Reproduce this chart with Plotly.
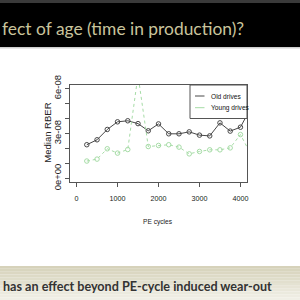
import plotly.graph_objects as go

# ---- data ----
pe_cycles = [250, 500, 750, 1000, 1250, 1500, 1750, 2000, 2250, 2500,
             2750, 3000, 3250, 3500, 3750, 4000, 4250]
old_drives = [2.25, 2.58, 3.27, 3.78, 3.85, 3.66, 3.18, 3.64, 2.98, 2.98,
              3.11, 2.89, 2.84, 3.71, 3.16, 3.42, 4.70]
young_drives = [1.16, 1.29, 1.98, 1.69, 1.93, 6.90, 2.13, 2.20, 2.25, 2.09,
                1.64, 1.80, 1.91, 1.91, 2.04, 2.93, 1.63]
old_drives = [v * 1e-8 for v in old_drives]
young_drives = [v * 1e-8 for v in young_drives]

x_ticks = [0, 1000, 2000, 3000, 4000]
y_tickvals = [0, 1e-8, 2e-8, 3e-8, 4e-8, 5e-8, 6e-8]
y_ticktext = ["0e+00", "", "", "3e-08", "", "", "6e-08"]

title_text = "fect of age (time in production)?"
bottom_text = "has an effect beyond PE-cycle induced wear-out"
series_names = ["Old drives", "Young drives"]

# ---- layout geometry (pixels) ----
L, R, T, B = 70, 247, 85, 182
W, H = R - L, B - T
def xp(px):
    return (px - L) / W
def yp(py):
    return (B - py) / H

OLD_COL = "#484848"
YOUNG_COL = "#a6dca6"
SANS = "Liberation Sans, Arial"
SMALL = 6.6

fig = go.Figure()
fig.add_trace(go.Scatter(
    x=pe_cycles, y=old_drives, mode="lines+markers", name=series_names[0],
    line=dict(color=OLD_COL, width=1),
    marker=dict(symbol="circle-open", size=4.5, color=OLD_COL, line=dict(width=1)),
    showlegend=False))
fig.add_trace(go.Scatter(
    x=pe_cycles, y=young_drives, mode="lines+markers", name=series_names[1],
    line=dict(color=YOUNG_COL, width=1, dash="dot"),
    marker=dict(symbol="circle-open", size=4.5, color=YOUNG_COL, line=dict(width=1)),
    showlegend=False))

shapes = []
annotations = []

# title band
shapes.append(dict(type="rect", xref="paper", yref="paper", x0=xp(0), x1=xp(300),
                   y0=yp(0), y1=yp(3), fillcolor="#3a3a3a", line=dict(width=0), layer="below"))
shapes.append(dict(type="rect", xref="paper", yref="paper", x0=xp(0), x1=xp(300),
                   y0=yp(3), y1=yp(47), fillcolor="#000000", line=dict(width=0), layer="below"))
shapes.append(dict(type="rect", xref="paper", yref="paper", x0=xp(0), x1=xp(300),
                   y0=yp(47), y1=yp(48.5), fillcolor="#cfcfcf", line=dict(width=0), layer="below"))
annotations.append(dict(text=title_text, xref="paper", yref="paper", x=xp(0), y=yp(28),
                        xanchor="left", yanchor="middle", showarrow=False,
                        font=dict(family="Lato", size=17.4, color="#c9c49c")))

# bottom band (gradient approximated by strips)
top_c = (214, 210, 186)
bot_c = (240, 239, 230)
n = 12
y_start, y_end = 266, 300
for i in range(n):
    t = i / (n - 1)
    c = tuple(int(round(top_c[k] + (bot_c[k] - top_c[k]) * t)) for k in range(3))
    y0 = y_start + (y_end - y_start) * i / n
    y1 = y_start + (y_end - y_start) * (i + 1) / n
    shapes.append(dict(type="rect", xref="paper", yref="paper", x0=xp(0), x1=xp(300),
                       y0=yp(y1), y1=yp(y0), fillcolor="rgb(%d,%d,%d)" % c,
                       line=dict(width=0), layer="below"))
annotations.append(dict(text="<b>" + bottom_text + "</b>", xref="paper", yref="paper",
                        x=xp(1), y=yp(286), xanchor="left", yanchor="middle",
                        showarrow=False, font=dict(family="Lato", size=12.6, color="#333333")))

# legend box
shapes.append(dict(type="rect", xref="paper", yref="paper", x0=xp(190), x1=xp(247),
                   y0=yp(118.5), y1=yp(85), line=dict(color="#555555", width=1),
                   fillcolor="white"))
for i, (name, col) in enumerate([(series_names[0], OLD_COL),
                                  (series_names[1], YOUNG_COL)]):
    ly = 96 + i * 11.7
    shapes.append(dict(type="line", xref="paper", yref="paper", x0=xp(195), x1=xp(204.5),
                       y0=yp(ly), y1=yp(ly), line=dict(color=col, width=1)))
    annotations.append(dict(text=name, xref="paper", yref="paper", x=xp(209), y=yp(ly),
                            xanchor="left", yanchor="middle", showarrow=False,
                            font=dict(family=SANS, size=SMALL, color="#111111")))

# axis titles
annotations.append(dict(text="Median RBER", xref="paper", yref="paper", x=xp(46.7), y=yp(133),
                        xanchor="center", yanchor="middle", textangle=-90, showarrow=False,
                        font=dict(family=SANS, size=9.5, color="#222222")))
annotations.append(dict(text="PE cycles", xref="paper", yref="paper", x=xp(158), y=yp(222),
                        xanchor="center", yanchor="middle", showarrow=False,
                        font=dict(family=SANS, size=SMALL, color="#222222")))

fig.update_layout(
    width=300, height=300,
    margin=dict(l=L, r=300 - R, t=T, b=300 - B),
    paper_bgcolor="white", plot_bgcolor="white",
    showlegend=False,
    shapes=shapes, annotations=annotations,
    xaxis=dict(range=[-160, 4160], tickvals=x_ticks, ticktext=[str(v) for v in x_ticks],
               showgrid=False, zeroline=False, showline=True, mirror=True,
               linecolor="#555555", linewidth=1, ticks="outside", ticklen=4,
               tickcolor="#555555", tickwidth=1, ticklabelstandoff=5,
               tickfont=dict(family=SANS, size=SMALL + 0.6, color="#222222")),
    yaxis=dict(range=[-0.24e-8, 6.24e-8], tickvals=y_tickvals, ticktext=y_ticktext,
               showgrid=False, zeroline=False, showline=True, mirror=True,
               linecolor="#555555", linewidth=1, ticks="outside", ticklen=4,
               tickcolor="#555555", tickwidth=1, tickangle=-90,
               tickfont=dict(family=SANS, size=9.5, color="#222222")),
)

fig.write_html("out.html")
